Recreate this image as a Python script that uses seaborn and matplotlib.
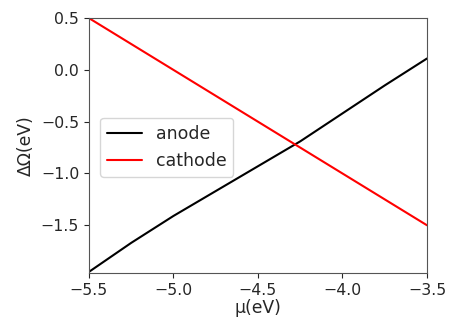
import matplotlib
matplotlib.use("Agg")
import matplotlib.pyplot as plt
import seaborn as sns
import pandas as pd

mu = [-5.5, -5.25, -5.0, -4.75, -4.5, -4.25, -4.0, -3.75, -3.5]
anode = [-1.95, -1.67, -1.41, -1.17, -0.93, -0.69, -0.42, -0.15, 0.11]
cathode = [0.5, 0.25, 0.0, -0.25, -0.5, -0.75, -1.0, -1.25, -1.5]

df = pd.concat([
    pd.DataFrame({"mu": mu, "dO": anode, "electrode": "anode"}),
    pd.DataFrame({"mu": mu, "dO": cathode, "electrode": "cathode"}),
])

sns.set_style("ticks")
plt.rcParams["font.family"] = ["DejaVu Sans"]

fig = plt.figure(figsize=(4.49, 3.23), dpi=100)
ax = fig.add_axes([0.198, 0.155, 0.753, 0.789])
sns.lineplot(data=df, x="mu", y="dO", hue="electrode",
             palette={"anode": "black", "cathode": "red"}, ax=ax, linewidth=1.5)
ax.set_xlim(-5.5, -3.5)
ax.set_ylim(-1.96, 0.5)
ax.set_xticks([-5.5, -5.0, -4.5, -4.0, -3.5])
ax.set_yticks([0.5, 0.0, -0.5, -1.0, -1.5])
ax.set_xlabel("μ(eV)", fontsize=12.4, labelpad=1)
ax.set_ylabel("ΔΩ(eV)", fontsize=12.4, labelpad=4.5)
ax.tick_params(labelsize=11.3)
for s in ax.spines.values():
    s.set_color("#555555")
leg = ax.legend(loc="upper left", bbox_to_anchor=(0.033, 0.608), borderaxespad=0,
                fontsize=12.5, frameon=True, title=None)
fig.savefig("out.png", dpi=100)
